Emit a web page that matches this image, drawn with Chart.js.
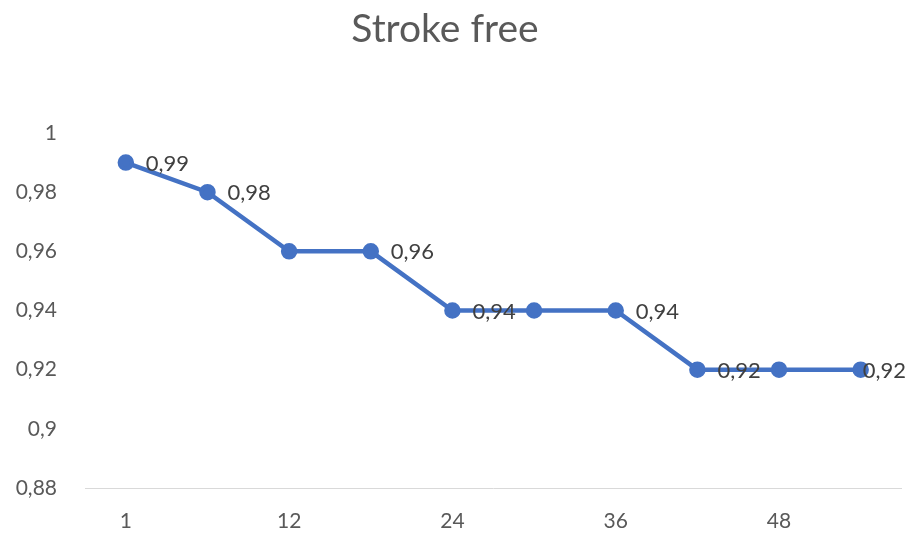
<!DOCTYPE html>
<html>
<head>
<meta charset="utf-8">
<script src="https://cdn.jsdelivr.net/npm/chart.js@4"></script>
<style>
  html, body { margin: 0; padding: 0; overflow: hidden; background: #fff; }
  #wrap { position: relative; width: 912px; height: 536px; }
  #myChart { display: block; }
</style>
</head>
<body>
<div id="wrap"><canvas id="myChart"></canvas></div>
<script>
"use strict";

const chartTitle = "Stroke free";
const months = ["1", "6", "12", "18", "24", "30", "36", "42", "48", "54"];
const strokeFree = [0.99, 0.98, 0.96, 0.96, 0.94, 0.94, 0.94, 0.92, 0.92, 0.92];
const showLabel = [true, true, false, true, true, false, true, true, false, true];
const yTicks = [0.88, 0.9, 0.92, 0.94, 0.96, 0.98, 1];

const fontFamily = "Lato, 'Open Sans', sans-serif";

function fmt(v) {
    return String(Math.round(v * 100) / 100).replace(".", ",");
}

// titel + dataetiketter till höger om punkterna
const extraText = {
    id: "extraText",
    afterDatasetsDraw(chart) {
        const ctx = chart.ctx;
        const meta = chart.getDatasetMeta(0);
        ctx.save();
        ctx.font = "22px " + fontFamily;
        ctx.fillStyle = "#404040";
        ctx.textBaseline = "middle";
        meta.data.forEach((pt, i) => {
            if (!showLabel[i]) return;
            const txt = fmt(strokeFree[i]);
            const w = ctx.measureText(txt).width;
            let x = pt.x + 20;
            if (x + w > chart.width - 6) x = chart.width - 6 - w;
            ctx.fillText(txt, x, pt.y + 1);
        });

        ctx.font = "39px " + fontFamily;
        ctx.fillStyle = "#595959";
        ctx.textAlign = "center";
        ctx.fillText(chartTitle, 445, 29);
        ctx.restore();
    }
};

const chartDiv = document.getElementById("myChart");

new Chart(chartDiv, {
    type: "line",
    data: {
        labels: months,
        datasets: [{
            label: chartTitle,
            data: strokeFree,
            borderColor: "#4472C4",
            backgroundColor: "#4472C4",
            borderWidth: 4.5,
            pointRadius: 6,
            pointHoverRadius: 6,
            tension: 0
        }]
    },
    options: {
        responsive: true,
        maintainAspectRatio: false,
        devicePixelRatio: 1,
        animation: false,
        layout: { padding: { left: 9, right: 0, top: 133, bottom: 2 } },
        plugins: {
            legend: { display: false },
            tooltip: { enabled: false },
            title: { display: false }
        },
        scales: {
            x: {
                offset: true,
                grid: { display: false, drawTicks: false },
                border: { display: true, color: "#d9d9d9", width: 1 },
                afterFit: function (axis) {
                    axis.height = 46;
                    axis.paddingLeft = 0;
                    axis.paddingRight = 0;
                },
                ticks: {
                    color: "#595959",
                    font: { family: fontFamily, size: 21 },
                    padding: 21,
                    autoSkip: false,
                    maxRotation: 0,
                    callback: function (val, idx) {
                        return idx % 2 === 0 ? months[idx] : "";
                    }
                }
            },
            y: {
                min: 0.88,
                max: 1,
                grid: { display: false, drawTicks: false },
                border: { display: false },
                afterFit: function (axis) { axis.width = 76; },
                afterBuildTicks: function (axis) {
                    axis.ticks = yTicks.map(v => ({ value: v }));
                },
                ticks: {
                    color: "#595959",
                    font: { family: fontFamily, size: 21 },
                    padding: 28,
                    callback: function (v) { return fmt(v); }
                }
            }
        }
    },
    plugins: [extraText]
});
</script>
</body>
</html>
